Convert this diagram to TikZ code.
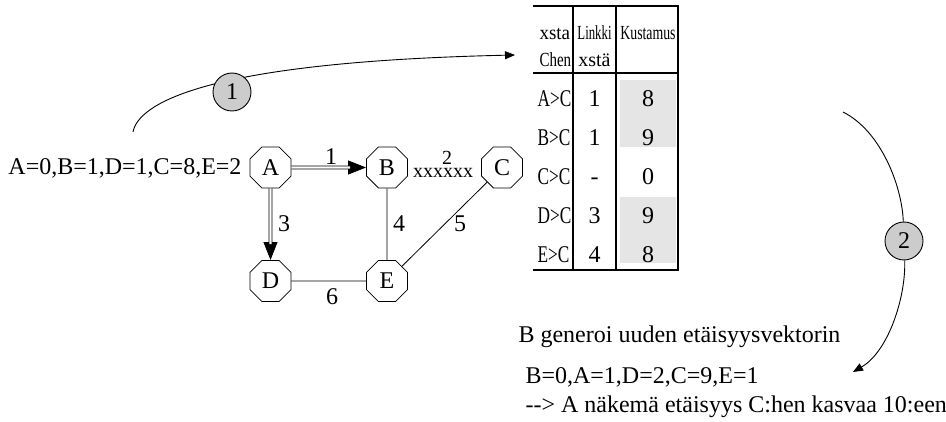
\documentclass[tikz,border=0pt]{standalone}
\usepackage{fontspec}
\setmainfont{Liberation Serif}
\usepackage{tikz}
\usetikzlibrary{arrows.meta,shapes.geometric}

\newcommand{\squeeze}[2]{\scalebox{#1}[1]{#2}}

\begin{document}
\begin{tikzpicture}[x=1pt,y=-1pt,
  every node/.style={font=\fontsize{24}{28}\selectfont},
  router/.style={draw, line width=0.8pt, regular polygon, regular polygon sides=8,
    minimum size=44.5pt, inner sep=0pt},
  stepno/.style={circle, draw, line width=0.9pt, fill=gray!40, minimum size=38pt, inner sep=0pt},
  link/.style={line width=0.8pt},
  route/.style={double, double distance=2.2pt, line width=0.7pt},
  bigtip/.style={-{Triangle[length=18pt,width=14pt]}},
  flow/.style={line width=0.9pt, -{Triangle[length=10pt,width=8pt]}},
  lbl/.style={anchor=base},
  small/.style={font=\fontsize{20}{24}\selectfont, anchor=base}]

  \useasboundingbox (0,0) rectangle (946,422);

  % Routers
  \node[router] (A) at (270.5,167.5) {A};
  \node[router] (B) at (387,167.5) {B};
  \node[router] (C) at (502,167.5) {C};
  \node[router] (D) at (270.5,281) {D};
  \node[router] (E) at (387,281) {E};

  % Links, A's routes doubled
  \draw[link,bigtip] (A) -- (B);
  \draw[route, shorten >=16pt] (A) -- (B);
  \draw[link,bigtip] (A) -- (D);
  \draw[route, shorten >=16pt] (A) -- (D);
  \draw[link] (B) -- (E);
  \draw[link] (C) -- (E);
  \draw[link] (D) -- (E);

  % Link costs, B-C is cut
  \node[lbl] (l1) at (331,165) {1};
  \node[lbl] (l3) at (284,232) {3};
  \node[lbl] (l4) at (399,232) {4};
  \node[lbl] (l5) at (460,232) {5};
  \node[lbl] (l6) at (332,305) {6};
  \node[small, inner sep=0pt] (cut) at (443,178)
    {\makebox[0pt][l]{\hspace{29pt}\raisebox{13pt}[0pt][0pt]{2}}xxxxxx};

  % Distance vector of A
  \node[anchor=base east] (dvA) at (245,175) {A=0,B=1,D=1,C=8,E=2};

  % Step 1
  \coordinate (s1) at (133,132);
  \coordinate (e1) at (515,55);
  \draw[flow] (s1) .. controls (138,105) and (200,62) .. (e1);
  \node[stepno] (n1) at (232,92) {1};

  % Table
  \fill[gray!20] (620,80) rectangle (676,147);
  \fill[gray!20] (620,197) rectangle (676,263);
  \draw[line width=2.5pt] (533,6) -- (679,6);
  \draw[line width=2.2pt] (533,73) -- (679,73);
  \draw[line width=2.8pt] (533,270) -- (679,270);
  \draw[line width=2.6pt] (678,4.8) -- (678,271.4);
  \draw[line width=1.3pt] (573,6) -- (573,270);
  \draw[line width=1.3pt] (616,6) -- (616,270);
  \node[small, anchor=base west] (h1a) at (536,40) {\squeeze{0.95}{xsta}};
  \node[small, anchor=base west] (h1b) at (536,67) {\squeeze{0.75}{Chen}};
  \node[small] (h2a) at (594.5,40) {\squeeze{0.64}{Linkki}};
  \node[small] (h2b) at (594.5,67) {xstä};
  \node[small] (h3a) at (648,40) {\squeeze{0.69}{Kustamus}};
  \foreach \r/\via/\cost [count=\i from 0] in {A/1/8, B/1/9, C/-/0, D/3/9, E/4/8} {
    \node[lbl, anchor=base west] (r\r) at (534,107+38.8*\i) {\squeeze{0.72}{\r>C}};
    \node[lbl] (v\r) at (594.5,107+38.8*\i) {\via};
    \node[lbl] (c\r) at (648,107+38.8*\i) {\cost};
  }

  % Step 2
  \coordinate (s2) at (843,112);
  \node[stepno] (n2) at (904,241) {2};
  \coordinate (e2) at (853,372);
  \draw[line width=0.9pt] (s2) .. controls (881,131) and (902,186) .. (n2);
  \draw[flow] (n2) .. controls (906,296) and (889,351) .. (e2);

  % New vector of B
  \node[anchor=base west] (gen) at (515,343) {B generoi uuden etäisyysvektorin};
  \node[anchor=base west] (dvB) at (522,383) {B=0,A=1,D=2,C=9,E=1};
  \node[anchor=base west] (res) at (522,412) {-\kern0pt-> A näkemä etäisyys C:hen kasvaa 10:een};
\end{tikzpicture}
\end{document}
